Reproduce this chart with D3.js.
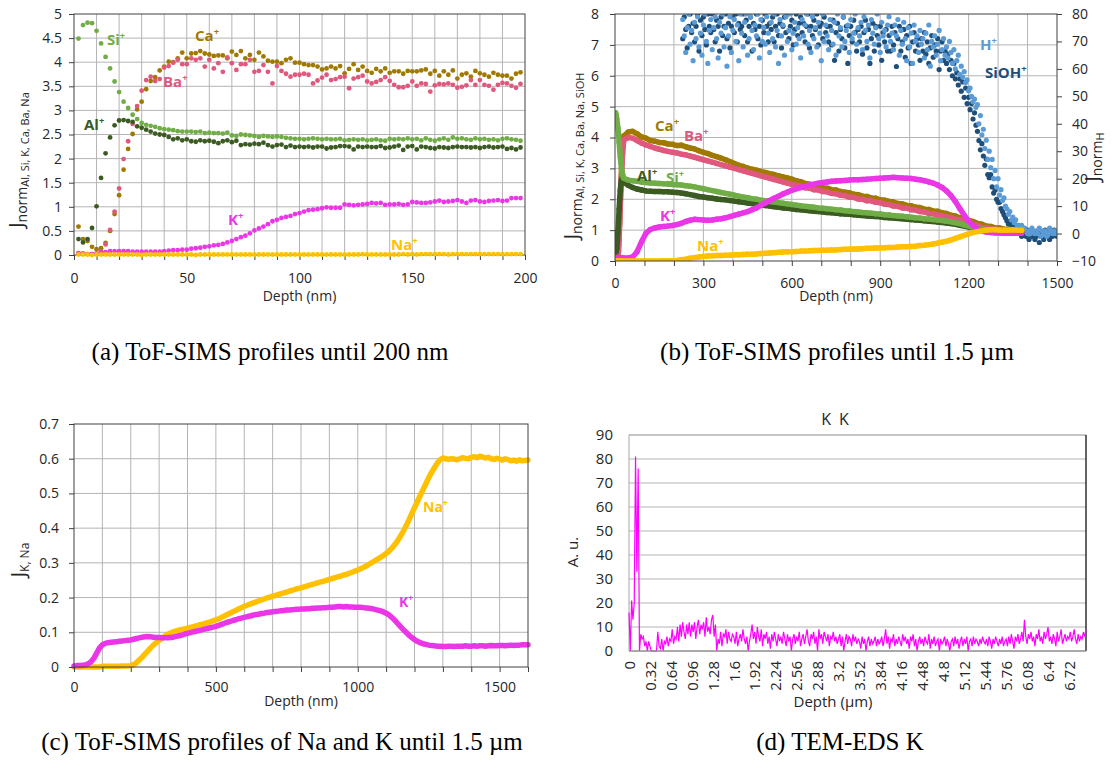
<!DOCTYPE html>
<html><head><meta charset="utf-8">
<script src="https://cdn.jsdelivr.net/npm/d3@7/dist/d3.min.js"></script>
<style>html,body{margin:0;padding:0;background:#fff;}</style>
</head><body>
<svg id="fig" width="1112" height="771" xmlns="http://www.w3.org/2000/svg"></svg>
<script>
// ================= DATA =================
// ---- Panel (a): ToF-SIMS profiles until 200 nm (step 2 nm) ----
const depthA = d3.range(2, 199, 2);
const ticksAx = [0, 50, 100, 150, 200];
const siA = [4.49,4.77,4.82,4.81,4.65,4.39,4.11,3.87,3.60,3.38,
 3.18,3.05,2.91,2.82,2.74,2.70,2.68,2.66,2.63,2.61,
 2.60,2.59,2.57,2.56,2.56,2.56,2.55,2.56,2.53,2.54,
 2.53,2.53,2.52,2.54,2.48,2.47,2.50,2.49,2.48,2.47,
 2.45,2.47,2.46,2.45,2.46,2.45,2.43,2.42,2.41,2.41,
 2.40,2.41,2.42,2.41,2.40,2.41,2.40,2.40,2.41,2.38,
 2.39,2.40,2.39,2.40,2.38,2.39,2.40,2.38,2.37,2.41,
 2.40,2.41,2.40,2.42,2.40,2.41,2.38,2.42,2.39,2.37,
 2.40,2.42,2.39,2.44,2.41,2.42,2.40,2.39,2.42,2.40,
 2.41,2.39,2.40,2.38,2.41,2.42,2.40,2.39,2.37];
const alA = [0.33,0.26,0.33,0.56,1.01,1.60,2.11,2.44,2.69,2.79,
 2.80,2.78,2.76,2.67,2.64,2.60,2.56,2.52,2.50,2.49,
 2.45,2.40,2.42,2.38,2.40,2.36,2.35,2.38,2.36,2.37,
 2.35,2.32,2.36,2.38,2.34,2.37,2.28,2.30,2.29,2.31,
 2.30,2.33,2.28,2.25,2.28,2.29,2.24,2.27,2.24,2.25,
 2.24,2.25,2.23,2.25,2.25,2.21,2.23,2.24,2.26,2.26,
 2.25,2.19,2.25,2.24,2.25,2.24,2.24,2.26,2.22,2.23,
 2.25,2.27,2.18,2.25,2.26,2.19,2.25,2.24,2.22,2.21,
 2.24,2.23,2.22,2.24,2.25,2.24,2.24,2.23,2.24,2.22,
 2.24,2.25,2.23,2.24,2.25,2.20,2.22,2.19,2.23];
const caA = [0.59,0.33,0.29,0.17,0.12,0.14,0.25,0.50,0.85,1.24,
 1.77,2.20,2.51,3.02,3.18,3.44,3.61,3.69,3.83,3.91,
 4.01,4.00,4.08,4.20,4.08,4.18,4.19,4.23,4.18,4.16,
 4.13,4.14,4.14,4.08,4.22,4.15,4.23,4.08,4.15,4.05,
 4.20,4.12,4.03,4.01,4.01,3.98,4.05,4.08,3.99,3.99,
 3.96,3.94,3.94,3.91,3.85,3.87,3.91,3.87,3.92,3.77,
 3.86,3.96,3.84,3.91,3.82,3.78,3.86,3.81,3.87,3.78,
 3.81,3.81,3.76,3.82,3.81,3.81,3.83,3.85,3.76,3.82,
 3.72,3.81,3.74,3.83,3.66,3.74,3.77,3.70,3.82,3.77,
 3.74,3.70,3.78,3.74,3.72,3.72,3.66,3.76,3.79];
const baA = [0.04,0.03,0.02,0.02,0.03,0.08,0.22,0.52,0.90,1.38,
 1.99,2.36,2.72,3.09,3.41,3.63,3.70,3.61,3.65,3.89,
 3.92,3.99,4.05,3.96,3.96,4.08,4.05,4.08,3.91,4.05,
 3.87,3.98,3.80,4.10,3.98,3.84,3.96,3.96,4.05,3.80,
 3.82,3.94,3.80,3.56,3.92,3.82,3.76,3.70,3.74,3.74,
 3.76,3.74,3.56,3.62,3.68,3.74,3.63,3.65,3.69,3.70,
 3.46,3.66,3.69,3.72,3.60,3.56,3.59,3.63,3.69,3.61,
 3.53,3.48,3.48,3.51,3.60,3.51,3.56,3.55,3.39,3.52,
 3.55,3.54,3.56,3.53,3.47,3.49,3.52,3.63,3.53,3.63,
 3.53,3.51,3.43,3.53,3.57,3.56,3.51,3.47,3.55];
const kA = [0.03,0.03,0.02,0.02,0.03,0.05,0.06,0.08,0.08,0.08,
 0.08,0.08,0.07,0.07,0.07,0.07,0.07,0.07,0.07,0.08,
 0.09,0.10,0.10,0.11,0.11,0.13,0.14,0.15,0.17,0.18,
 0.20,0.21,0.23,0.26,0.29,0.33,0.37,0.40,0.45,0.51,
 0.55,0.59,0.64,0.70,0.73,0.77,0.79,0.81,0.85,0.87,
 0.90,0.93,0.94,0.95,0.97,0.99,0.98,0.98,0.98,1.05,
 1.04,1.03,1.04,1.05,1.06,1.08,1.07,1.08,1.04,1.05,
 1.05,1.06,1.04,1.05,1.10,1.09,1.08,1.08,1.09,1.11,
 1.13,1.10,1.11,1.12,1.14,1.11,1.08,1.13,1.14,1.11,
 1.10,1.12,1.13,1.14,1.12,1.13,1.18,1.18,1.18];
const naA = [0.01,0.01,0.01,0.00,0.01,0.01,0.01,0.01,0.01,0.01,
 0.01,0.01,0.01,0.01,0.00,0.01,0.01,0.01,0.01,0.01,
 0.01,0.01,0.01,0.01,0.01,0.01,0.00,0.01,0.01,0.01,
 0.01,0.01,0.01,0.01,0.01,0.01,0.01,0.01,0.01,0.01,
 0.01,0.01,0.01,0.01,0.01,0.01,0.01,0.01,0.01,0.01,
 0.01,0.01,0.01,0.01,0.01,0.01,0.01,0.01,0.01,0.01,
 0.01,0.01,0.01,0.02,0.01,0.01,0.01,0.01,0.01,0.01,
 0.01,0.01,0.02,0.01,0.02,0.01,0.02,0.02,0.02,0.02,
 0.02,0.02,0.01,0.02,0.02,0.02,0.02,0.02,0.02,0.02,
 0.02,0.02,0.02,0.02,0.02,0.02,0.02,0.02,0.02];

// ---- Panel (b): ToF-SIMS profiles until 1.5 um ----
const depthB = [2,4,6,8,10,12,14,16,18,20,22,24,26,28].concat(d3.range(30, 1381, 15));
const ticksBx = [0, 300, 600, 900, 1200, 1500];
const caB = [0.55,0.30,0.18,0.15,0.25,0.50,0.90,1.40,1.95,2.50,2.98,3.40,3.70,3.92,
 4.05,4.18,4.20,4.12,4.02,3.98,3.90,3.88,3.84,3.83,
 3.79,3.78,3.74,3.75,3.70,3.66,3.63,3.57,3.52,3.48,
 3.42,3.38,3.33,3.28,3.22,3.16,3.10,3.06,3.01,2.97,
 2.94,2.90,2.87,2.83,2.80,2.76,2.72,2.69,2.65,2.60,
 2.57,2.51,2.49,2.44,2.42,2.37,2.36,2.31,2.30,2.25,
 2.23,2.21,2.16,2.15,2.10,2.09,2.04,2.03,1.98,1.97,
 1.93,1.91,1.86,1.85,1.80,1.79,1.74,1.73,1.68,1.67,
 1.62,1.61,1.56,1.54,1.48,1.46,1.40,1.37,1.31,1.28,
 1.22,1.19,1.13,1.12,1.07,1.07,1.03,1.03,1.00,1.01,
 1.00];
const baB = [0.10,0.08,0.06,0.07,0.12,0.32,0.72,1.20,1.75,2.28,2.75,3.15,3.48,3.72,
 3.92,4.00,3.98,3.90,3.82,3.76,3.71,3.66,3.62,3.58,
 3.55,3.52,3.50,3.46,3.44,3.40,3.36,3.32,3.28,3.24,
 3.20,3.16,3.12,3.08,3.04,3.00,2.96,2.92,2.88,2.84,
 2.80,2.76,2.72,2.68,2.64,2.60,2.56,2.52,2.48,2.45,
 2.42,2.37,2.36,2.31,2.30,2.25,2.24,2.19,2.18,2.13,
 2.12,2.07,2.06,2.01,2.00,1.95,1.95,1.90,1.89,1.84,
 1.83,1.78,1.77,1.72,1.71,1.66,1.65,1.60,1.59,1.54,
 1.53,1.48,1.47,1.42,1.41,1.35,1.33,1.26,1.24,1.17,
 1.15,1.09,1.08,1.03,1.03,1.00,1.01,0.98,1.00,0.97,
 0.98];
const siB = [4.80,4.72,4.60,4.45,4.30,4.10,3.85,3.60,3.38,3.18,3.02,2.90,2.80,2.72,
 2.68,2.62,2.60,2.58,2.56,2.54,2.53,2.52,2.51,2.50,
 2.49,2.48,2.47,2.46,2.44,2.42,2.40,2.37,2.34,2.31,
 2.28,2.25,2.22,2.19,2.16,2.13,2.10,2.07,2.05,2.02,
 2.00,1.97,1.95,1.93,1.91,1.89,1.87,1.85,1.83,1.81,
 1.79,1.77,1.76,1.74,1.72,1.71,1.69,1.68,1.66,1.65,
 1.63,1.62,1.60,1.59,1.57,1.56,1.55,1.53,1.52,1.50,
 1.49,1.47,1.46,1.45,1.43,1.42,1.40,1.39,1.37,1.36,
 1.34,1.33,1.31,1.29,1.27,1.24,1.21,1.17,1.13,1.09,
 1.06,1.03,1.01,0.99,0.98,0.97,0.96,0.96,0.95,0.95,
 0.95];
const alB = [0.30,0.30,0.40,0.62,0.95,1.30,1.68,2.02,2.30,2.50,2.62,2.68,2.66,2.60,
 2.55,2.45,2.38,2.33,2.30,2.27,2.26,2.25,2.25,2.24,
 2.24,2.23,2.22,2.20,2.18,2.15,2.12,2.09,2.07,2.05,
 2.03,2.01,1.99,1.98,1.96,1.94,1.92,1.90,1.88,1.86,
 1.84,1.82,1.80,1.78,1.76,1.74,1.72,1.71,1.69,1.67,
 1.66,1.64,1.63,1.61,1.60,1.59,1.57,1.56,1.55,1.53,
 1.52,1.51,1.50,1.48,1.47,1.46,1.45,1.44,1.43,1.41,
 1.40,1.39,1.38,1.37,1.35,1.34,1.33,1.32,1.30,1.29,
 1.28,1.26,1.25,1.23,1.21,1.19,1.16,1.13,1.10,1.07,
 1.04,1.01,0.99,0.98,0.97,0.96,0.96,0.95,0.95,0.95,
 0.95];
const kB = [0.10,0.10,0.10,0.10,0.10,0.10,0.10,0.10,0.10,0.10,0.10,0.10,0.10,0.10,
 0.10,0.10,0.13,0.30,0.62,0.90,1.02,1.07,1.10,1.12,
 1.13,1.15,1.18,1.22,1.28,1.32,1.35,1.34,1.33,1.32,
 1.33,1.35,1.37,1.40,1.44,1.48,1.52,1.56,1.60,1.66,
 1.72,1.80,1.88,1.96,2.03,2.10,2.17,2.23,2.29,2.34,
 2.38,2.42,2.46,2.49,2.52,2.54,2.56,2.58,2.59,2.60,
 2.61,2.62,2.63,2.63,2.64,2.65,2.66,2.67,2.68,2.69,
 2.70,2.71,2.70,2.69,2.68,2.67,2.65,2.63,2.60,2.56,
 2.52,2.46,2.38,2.27,2.12,1.93,1.70,1.48,1.30,1.15,
 1.04,0.97,0.94,0.92,0.91,0.91,0.90,0.90,0.90,0.90,
 0.90];
const naB = [0,0,0,0,0,0,0,0,0,0,0,0,0,0,
 0.00,0.00,0.00,0.00,0.00,0.00,0.00,0.00,0.00,0.01,
 0.01,0.01,0.02,0.04,0.06,0.09,0.11,0.13,0.15,0.16,
 0.17,0.18,0.18,0.19,0.19,0.20,0.20,0.21,0.22,0.22,
 0.23,0.24,0.25,0.26,0.27,0.28,0.29,0.30,0.30,0.31,
 0.32,0.32,0.33,0.34,0.34,0.35,0.35,0.36,0.36,0.37,
 0.38,0.38,0.39,0.39,0.40,0.41,0.41,0.42,0.42,0.43,
 0.44,0.44,0.45,0.46,0.46,0.47,0.48,0.50,0.51,0.53,
 0.55,0.58,0.61,0.64,0.68,0.73,0.78,0.83,0.88,0.92,
 0.95,0.98,1.00,1.01,1.01,1.00,1.00,1.00,1.01,1.00,
 1.00];
// H+ (right axis, J_normH) and SiOH+ (left axis), step 5 nm
const depthH = d3.range(230, 1501, 5);
const hB = [78,72,66,75,80,69,74,63,77,71,79,68,73,65,76,80,70,62,74,78,
 67,75,79,71,64,77,73,80,68,75,61,72,79,66,74,78,70,76,63,80,
 73,68,77,80,65,71,79,74,67,76,72,80,64,78,70,75,69,79,73,66,
 77,71,80,68,74,62,78,72,76,65,79,70,74,80,67,73,77,69,75,71,
 64,78,72,76,80,69,74,66,79,71,75,68,77,73,63,80,70,76,72,67,
 78,74,69,77,65,80,72,75,68,79,70,74,76,66,78,71,73,80,69,75,
 72,77,67,79,74,70,76,64,78,73,69,75,80,71,66,77,72,74,68,76,
 79,70,73,67,76,72,78,65,74,69,77,71,63,75,68,73,62,76,70,72,
 66,74,69,71,64,73,67,76,61,70,68,72,65,69,74,63,67,71,65,68,
 64,70,66,62,67,60,63,65,58,61,57,59,55,56,52,53,50,48,49,46,
 47,40,43,36,38,31,34,27,30,24,27,20,23,17,20,14,16,12,13,10,
 9,7,8,5,6,4,5,3,3,2,3,1,2,1,0,1,0,2,1,0,
 1,0,2,-1,1,0,1,-1,0,2,1,0,1,0,1];
const siohB = [7.2,7.9,7.5,6.9,7.6,8.0,7.4,7.7,7.1,7.6,8.0,6.8,7.8,7.3,7.9,7.5,7.0,8.0,7.6,7.4,
 8.0,7.5,7.1,7.8,7.6,6.8,7.9,7.3,7.6,8.0,7.2,7.7,6.9,7.6,7.9,7.4,8.0,7.1,7.7,7.5,
 7.6,8.0,7.3,7.8,7.1,7.6,7.9,6.8,7.7,7.5,8.0,7.2,7.6,7.0,7.8,7.4,8.0,7.6,7.1,7.7,
 7.5,7.9,7.1,7.6,8.0,7.3,7.7,6.9,7.6,7.9,7.4,8.0,7.2,7.6,7.8,7.0,7.5,8.0,7.3,7.7,
 7.9,7.4,7.7,7.1,7.6,8.0,6.9,7.6,7.3,7.8,7.5,8.0,7.0,7.6,7.7,7.2,7.9,7.4,7.6,7.1,
 7.6,7.0,7.8,6.5,7.4,7.7,6.8,7.5,7.2,7.9,6.9,7.6,6.4,7.3,7.6,7.1,7.8,7.4,6.8,7.5,
 7.1,7.6,6.7,7.4,7.8,6.9,7.5,6.4,7.2,7.7,6.8,7.6,7.3,7.0,7.6,6.5,7.4,7.1,7.5,6.8,
 7.3,6.8,7.6,7.0,7.4,6.3,7.2,7.6,6.8,7.1,7.5,6.6,7.3,6.9,7.6,6.4,7.1,7.4,6.8,7.2,
 7.0,6.5,7.2,6.8,7.4,6.7,7.1,6.4,6.9,7.3,6.6,7.0,6.8,7.2,6.2,6.8,7.1,6.5,6.8,6.4,
 6.7,6.2,6.5,6.0,6.4,5.9,6.1,5.7,5.9,5.5,5.8,5.3,5.6,5.1,5.3,4.9,5.1,4.6,4.8,4.4,
 4.2,3.9,3.6,3.8,3.4,3.1,3.3,2.8,2.7,2.8,2.4,2.2,2.3,2.0,1.9,1.9,1.7,1.6,1.5,1.4,
 1.3,1.2,1.2,1.1,1.1,1.1,1.0,1.0,0.9,1.0,0.8,0.9,0.9,0.8,1.0,0.7,0.9,0.8,0.9,0.7,
 0.8,0.9,0.6,0.8,0.9,0.7,1.0,0.8,0.9,0.7,0.9,0.8,1.0,0.9,0.8];

// ---- Panel (c): Na and K until 1.6 um (step 10 nm) ----
const depthC = d3.range(0, 1601, 10);
const ticksCx = [0, 500, 1000, 1500];
const naC = [0,0,0,0,0,0,0,0,0,0,
 0.002,0.002,0.002,0.002,0.002,0.002,0.002,0.003,0.003,0.003,
 0.004,0.007,0.012,0.020,0.028,0.037,0.046,0.055,0.063,0.070,
 0.077,0.083,0.089,0.094,0.098,0.101,0.104,0.106,0.108,0.110,
 0.112,0.114,0.116,0.118,0.121,0.123,0.125,0.128,0.130,0.133,
 0.136,0.139,0.143,0.147,0.151,0.155,0.159,0.163,0.167,0.171,
 0.175,0.178,0.181,0.184,0.187,0.190,0.193,0.196,0.199,0.201,
 0.204,0.206,0.209,0.211,0.214,0.216,0.219,0.221,0.224,0.226,
 0.228,0.231,0.233,0.236,0.238,0.240,0.243,0.245,0.247,0.250,
 0.252,0.255,0.257,0.260,0.262,0.265,0.267,0.270,0.273,0.276,
 0.279,0.283,0.287,0.291,0.296,0.301,0.306,0.311,0.316,0.321,
 0.327,0.334,0.342,0.352,0.363,0.376,0.390,0.406,0.423,0.441,
 0.459,0.476,0.494,0.511,0.528,0.545,0.560,0.574,0.587,0.597,
 0.602,0.600,0.598,0.600,0.599,0.597,0.600,0.603,0.601,0.600,
 0.604,0.606,0.603,0.607,0.605,0.602,0.604,0.600,0.598,0.601,
 0.599,0.596,0.600,0.597,0.594,0.596,0.593,0.597,0.594,0.595,
 0.596];
const kC = [0.003,0.004,0.004,0.005,0.006,0.009,0.015,0.025,0.040,0.055,
 0.064,0.068,0.070,0.071,0.072,0.073,0.074,0.075,0.076,0.077,
 0.078,0.080,0.082,0.084,0.086,0.087,0.088,0.087,0.086,0.085,
 0.085,0.084,0.084,0.084,0.085,0.086,0.088,0.090,0.092,0.095,
 0.097,0.099,0.101,0.103,0.105,0.107,0.109,0.111,0.113,0.115,
 0.117,0.120,0.123,0.126,0.129,0.131,0.134,0.136,0.139,0.141,
 0.143,0.145,0.147,0.149,0.151,0.152,0.154,0.155,0.157,0.158,
 0.159,0.160,0.161,0.162,0.163,0.164,0.164,0.165,0.166,0.166,
 0.167,0.167,0.168,0.168,0.169,0.169,0.170,0.170,0.171,0.171,
 0.172,0.172,0.173,0.174,0.174,0.173,0.174,0.173,0.173,0.172,
 0.172,0.172,0.171,0.170,0.169,0.168,0.166,0.164,0.162,0.159,
 0.155,0.150,0.143,0.135,0.126,0.117,0.108,0.100,0.092,0.085,
 0.079,0.074,0.070,0.067,0.065,0.063,0.062,0.061,0.060,0.060,
 0.059,0.059,0.060,0.060,0.059,0.060,0.060,0.060,0.061,0.060,
 0.060,0.061,0.060,0.061,0.061,0.060,0.061,0.062,0.061,0.061,
 0.062,0.062,0.061,0.062,0.063,0.062,0.063,0.063,0.064,0.064,
 0.064];

// ---- Panel (d): TEM-EDS K line scan (step 0.02 um) ----
const depthD = d3.range(350).map(i => +(i * 0.02).toFixed(2));
const ticksD = [0,0.32,0.64,0.96,1.28,1.6,1.92,2.24,2.56,2.88,3.2,3.52,3.84,4.16,4.48,4.8,5.12,5.44,5.76,6.08,6.4,6.72];
const kD = [16,0,21,13,20,81,33,76,0,7,5,6,2,4,0,4,
 2,0,0,0,0,0,8,2,1,5,0,4,3,6,2,5,
 4,9,3,6,5,10,4,11,6,12,8,5,11,7,12,6,
 11,8,12,5,10,13,7,11,9,12,6,14,8,10,7,13,
 15,6,11,0,5,3,8,2,7,6,9,3,8,5,4,7,
 6,3,8,2,5,7,4,9,5,3,6,0,4,7,11,5,
 8,3,10,6,4,9,2,7,5,8,3,6,1,7,4,8,
 5,2,7,4,6,3,8,5,2,7,4,6,0,5,7,3,
 6,4,8,2,5,7,3,6,9,4,2,7,5,8,3,6,
 0,9,5,7,3,8,6,4,7,2,6,5,8,4,6,3,
 5,7,2,6,0,4,7,3,6,5,2,7,4,6,3,5,
 4,1,6,3,5,0,4,6,2,5,3,4,6,2,5,3,
 4,6,2,5,9,3,6,1,5,4,7,2,5,3,6,4,
 2,7,4,6,3,5,1,6,4,7,2,5,0,4,6,3,
 5,2,6,4,3,7,1,5,3,6,2,4,5,0,5,3,
 4,6,2,5,3,0,4,5,2,6,3,5,1,4,6,2,
 5,3,6,0,4,5,2,6,3,5,4,2,5,3,6,4,
 3,5,2,6,4,1,5,3,6,4,2,5,3,6,2,4,
 5,2,6,3,7,4,1,6,4,7,3,5,8,4,13,6,
 3,7,5,8,4,6,2,7,5,9,4,6,3,8,5,7,
 10,4,6,3,7,5,2,8,4,6,9,3,5,7,4,6,
 5,8,4,6,9,5,3,7,4,6,5,8,6,9];

// ================= STYLE =================
const FONT = "'Open Sans', sans-serif";
const INK = "#262626";
const COL = { si:"#70ad47", al:"#3b5b22", ca:"#a07a00", ba:"#e0587d", k:"#ea36e6",
              na:"#ffc000", h:"#5b9bd5", sioh:"#1f4e79", kd:"#ff00ff" };
const svg = d3.select("#fig");
svg.append("rect").attr("width",1112).attr("height",771).attr("fill","#fff");

function grid(g, x, y, xs, ys, color, w) {
  const [x0,x1] = x.range(), [y0,y1] = y.range();
  g.append("g").selectAll("line").data(xs).join("line")
    .attr("x1", d=>x(d)).attr("x2", d=>x(d)).attr("y1", y0).attr("y2", y1)
    .attr("stroke", color).attr("stroke-width", w);
  g.append("g").selectAll("line").data(ys).join("line")
    .attr("y1", d=>y(d)).attr("y2", d=>y(d)).attr("x1", x0).attr("x2", x1)
    .attr("stroke", color).attr("stroke-width", w);
}
function border(g, x, y, color) {
  const [x0,x1] = x.range(), [y0,y1] = y.range();
  g.append("rect").attr("x",x0).attr("y",y1).attr("width",x1-x0).attr("height",y0-y1)
    .attr("fill","none").attr("stroke",color).attr("stroke-width",1);
}
function styleAxis(a, fs) {
  a.select(".domain").remove();
  a.selectAll(".tick line").attr("stroke","#404040");
  a.selectAll(".tick text").attr("font-family",FONT).attr("font-size",fs).attr("fill",INK);
}
function yTitle(g, x, y, parts) {
  const t = g.append("text").attr("transform",`translate(${x},${y}) rotate(-90)`)
    .attr("text-anchor","middle").attr("font-family",FONT).attr("fill",INK);
  parts.forEach(p => t.append("tspan").attr("font-size",p[1]).attr("dy",p[2]).text(p[0]));
}
function xTitle(g, x, y, s, fs) {
  g.append("text").attr("x",x).attr("y",y).attr("text-anchor","middle")
    .attr("font-family",FONT).attr("font-size",fs).attr("fill",INK).text(s);
}
function ion(g, x, y, name, color, fs) {
  const t = g.append("text").attr("x",x).attr("y",y).attr("fill",color)
    .attr("font-family",FONT).attr("font-weight",700).attr("font-size",fs).text(name);
  t.append("tspan").attr("dy",-fs*0.4).attr("font-size",fs*0.62).text("+");
}
function dots(g, xs, ys, x, y, color, r) {
  g.append("g").selectAll("circle").data(xs.map((d,i)=>[d, ys[i]])).join("circle")
    .attr("cx", d=>x(d[0])).attr("cy", d=>y(d[1])).attr("r", r).attr("fill", color);
}
function band(g, xs, ys, x, y, color, w) {
  g.append("path").datum(xs.map((d,i)=>[d, ys[i]]))
    .attr("d", d3.line().x(d=>x(d[0])).y(d=>y(d[1])))
    .attr("fill","none").attr("stroke",color).attr("stroke-width",w)
    .attr("stroke-linejoin","round").attr("stroke-linecap","round");
}
function caption(x, y, s) {
  svg.append("text").attr("x",x).attr("y",y).attr("text-anchor","middle")
    .attr("font-family","'Liberation Serif', 'Times New Roman', serif").attr("font-size",25)
    .attr("fill","#000").text(s);
}
const GRID = "#b4b4b4";

// ================= PANEL (a) =================
{
  const g = svg.append("g");
  const x = d3.scaleLinear().domain([0,200]).range([74,525]);
  const y = d3.scaleLinear().domain([0,5]).range([255,14]);
  grid(g, x, y, d3.range(10,200,10), d3.range(0.5,5,0.5), GRID, 1);
  border(g, x, y, "#404040");
  const ax = g.append("g").attr("transform",`translate(0,${y(0)})`)
    .call(d3.axisBottom(x).tickValues(d3.range(0,201,10))
      .tickFormat(d => ticksAx.includes(d) ? d : "").tickSize(5).tickPadding(13));
  styleAxis(ax, 14);
  const ay = g.append("g").attr("transform",`translate(${x(0)},0)`)
    .call(d3.axisLeft(y).tickValues(d3.range(0,5.01,0.5)).tickFormat(d3.format("~g")).tickSize(5).tickPadding(7));
  styleAxis(ay, 14);
  const r = 2.4;
  dots(g, depthA, caA, x, y, COL.ca, r);
  dots(g, depthA, baA, x, y, COL.ba, r);
  dots(g, depthA, alA, x, y, COL.al, r);
  dots(g, depthA, siA, x, y, COL.si, r);
  dots(g, depthA, kA, x, y, COL.k, r);
  dots(g, depthA, naA, x, y, COL.na, r);
  ion(g, 107, 45, "Si", COL.si, 15);
  ion(g, 195, 41, "Ca", COL.ca, 15);
  ion(g, 163, 87, "Ba", COL.ba, 15);
  ion(g, 84, 130, "Al", COL.al, 15);
  ion(g, 228, 225, "K", COL.k, 15);
  ion(g, 391, 250, "Na", COL.na, 15);
  xTitle(g, 299.5, 301, "Depth (nm)", 14);
  yTitle(g, 23, 160, [["J",20,0],["norm",14,4],["Al, Si, K, Ca, Ba, Na",11,2]]);
}

// ================= PANEL (b) =================
{
  const g = svg.append("g");
  const x = d3.scaleLinear().domain([0,1500]).range([615,1057]);
  const y = d3.scaleLinear().domain([0,8]).range([261,14]);
  const yR = d3.scaleLinear().domain([-10,80]).range([261,14]);
  grid(g, x, y, d3.range(100,1500,100), d3.range(1,8,1), GRID, 1);
  svg.append("clipPath").attr("id","clipB").append("rect")
    .attr("x",615).attr("y",14).attr("width",442).attr("height",247);
  const p = g.append("g").attr("clip-path","url(#clipB)");
  dots(p, depthH, siohB, x, y, COL.sioh, 2.6);
  dots(p, depthH, hB, x, yR, COL.h, 2.6);
  const bw = 5.5, r = 2.7;
  band(p, depthB, caB, x, y, COL.ca, bw); dots(p, depthB, caB, x, y, COL.ca, r);
  band(p, depthB, baB, x, y, COL.ba, bw); dots(p, depthB, baB, x, y, COL.ba, r);
  band(p, depthB, alB, x, y, COL.al, bw); dots(p, depthB, alB, x, y, COL.al, r);
  band(p, depthB, siB, x, y, COL.si, bw); dots(p, depthB, siB, x, y, COL.si, r);
  band(p, depthB, kB, x, y, COL.k, bw); dots(p, depthB, kB, x, y, COL.k, r);
  band(p, depthB, naB, x, y, COL.na, bw); dots(p, depthB, naB, x, y, COL.na, r);
  border(g, x, y, "#404040");
  const ax = g.append("g").attr("transform",`translate(0,${y(0)})`)
    .call(d3.axisBottom(x).tickValues(d3.range(0,1501,100))
      .tickFormat(d => ticksBx.includes(d) ? d : "").tickSize(5).tickPadding(12));
  styleAxis(ax, 14);
  const ay = g.append("g").attr("transform",`translate(${x(0)},0)`)
    .call(d3.axisLeft(y).tickValues(d3.range(0,9,1)).tickSize(5).tickPadding(11));
  styleAxis(ay, 14);
  const ayr = g.append("g").attr("transform",`translate(${x(1500)},0)`)
    .call(d3.axisRight(yR).tickValues(d3.range(-10,81,10)).tickSize(5).tickPadding(10));
  styleAxis(ayr, 14);
  ion(g, 655, 131, "Ca", COL.ca, 15);
  ion(g, 684, 141, "Ba", COL.ba, 15);
  ion(g, 637, 181, "Al", COL.al, 15);
  ion(g, 666, 183, "Si", COL.si, 15);
  ion(g, 660, 221, "K", COL.k, 15);
  ion(g, 697, 251, "Na", COL.na, 15);
  ion(g, 980, 50, "H", COL.h, 15);
  ion(g, 985, 78, "SiOH", COL.sioh, 15);
  xTitle(g, 836, 301, "Depth (nm)", 14);
  yTitle(g, 578, 156, [["J",20,0],["norm",14,4],["Al, Si, K, Ca, Ba, Na, SiOH",11,2]]);
  yTitle(g, 1099, 157, [["J",20,0],["norm",14,3],["H",11,2]]);
}

// ================= PANEL (c) =================
{
  const g = svg.append("g");
  const x = d3.scaleLinear().domain([0,1600]).range([74,528]);
  const y = d3.scaleLinear().domain([0,0.7]).range([667,424]);
  grid(g, x, y, d3.range(100,1600,100), d3.range(0.1,0.7,0.1), GRID, 1);
  band(g, depthC, naC, x, y, COL.na, 5.5);
  band(g, depthC, kC, x, y, COL.k, 5.5);
  border(g, x, y, "#404040");
  const ax = g.append("g").attr("transform",`translate(0,${y(0)})`)
    .call(d3.axisBottom(x).tickValues(d3.range(0,1601,100))
      .tickFormat(d => ticksCx.includes(d) ? d : "").tickSize(5).tickPadding(10));
  styleAxis(ax, 14);
  const ay = g.append("g").attr("transform",`translate(${x(0)},0)`)
    .call(d3.axisLeft(y).tickValues(d3.range(0,0.71,0.1)).tickFormat(d3.format("~g")).tickSize(5).tickPadding(10));
  styleAxis(ay, 14);
  ion(g, 423, 512, "Na", COL.na, 14);
  ion(g, 399, 607, "K", COL.k, 14);
  xTitle(g, 301, 706, "Depth (nm)", 14);
  yTitle(g, 25, 560, [["J",20,0],["K, Na",12,4]]);
}

// ================= PANEL (d) =================
{
  const g = svg.append("g");
  const x = d3.scaleLinear().domain([0,6.98]).range([629,1086]);
  const y = d3.scaleLinear().domain([0,90]).range([651,435]);
  grid(g, x, y, [], d3.range(10,90,10), "#d9d9d9", 2);
  g.append("line").attr("x1",629).attr("x2",1086).attr("y1",435).attr("y2",435).attr("stroke","#8c8c8c");
  g.append("line").attr("x1",629).attr("x2",629).attr("y1",435).attr("y2",651).attr("stroke","#a6a6a6");
  g.append("line").attr("x1",1086).attr("x2",1086).attr("y1",435).attr("y2",651).attr("stroke","#111").attr("stroke-width",1.3);
  g.append("path").datum(depthD.map((d,i)=>[d, kD[i]]))
    .attr("d", d3.line().x(d=>x(d[0])).y(d=>y(d[1])))
    .attr("fill","none").attr("stroke",COL.kd).attr("stroke-width",1.2);
  g.append("line").attr("x1",629).attr("x2",1086).attr("y1",651).attr("y2",651).attr("stroke","#8c8c8c").attr("stroke-width",1.5);
  const ax = g.append("g").attr("transform",`translate(0,${y(0)})`)
    .call(d3.axisBottom(x).tickValues(ticksD).tickFormat(d3.format("~g")).tickSize(0));
  styleAxis(ax, 15);
  ax.selectAll(".tick text").attr("transform","rotate(-90)").attr("text-anchor","end")
    .attr("x",-10).attr("y",0).attr("dy","0.35em");
  const ay = g.append("g").attr("transform",`translate(${x(0)},0)`)
    .call(d3.axisLeft(y).tickValues(d3.range(0,91,10)).tickSize(0).tickPadding(16));
  styleAxis(ay, 15);
  g.append("text").attr("x",835).attr("y",425).attr("text-anchor","middle")
    .attr("font-family",FONT).attr("font-size",16).attr("fill",INK)
    .attr("word-spacing",4).text("K K");
  xTitle(g, 833, 707, "Depth (µm)", 15);
  yTitle(g, 578, 552, [["A. u.",15,0]]);
}

// ================= CAPTIONS =================
caption(270, 360, "(a) ToF-SIMS profiles until 200 nm");
caption(837, 360, "(b) ToF-SIMS profiles until 1.5 µm");
caption(282, 750, "(c) ToF-SIMS profiles of Na and K until 1.5 µm");
caption(840, 750, "(d) TEM-EDS K");
</script>
</body></html>
